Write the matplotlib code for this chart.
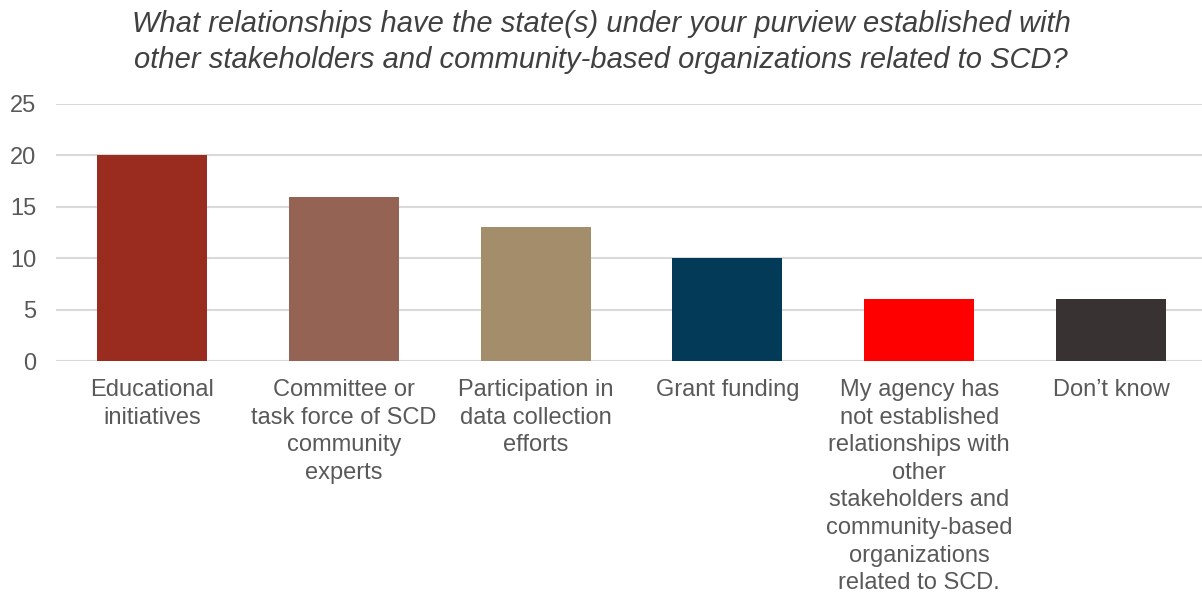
import matplotlib
matplotlib.use("Agg")
import matplotlib.pyplot as plt

plt.rcParams['font.family'] = ['Liberation Sans', 'DejaVu Sans']

# 数据
categories = [
    "Educational\ninitiatives",
    "Committee or\ntask force of SCD\ncommunity\nexperts",
    "Participation in\ndata collection\nefforts",
    "Grant funding",
    "My agency has\nnot established\nrelationships with\nother\nstakeholders and\ncommunity-based\norganizations\nrelated to SCD.",
    "Don\u2019t know",
]
values = [20, 16, 13, 10, 6, 6]
colors = ["#9a2c1f", "#956354", "#a38d6b", "#023a57", "#ff0000", "#383232"]
yticks = [0, 5, 10, 15, 20, 25]

title = ("What relationships have the state(s) under your purview established with\n"
         "other stakeholders and community-based organizations related to SCD?")

fig = plt.figure(figsize=(12.02, 5.95), dpi=100)
ax = fig.add_axes([56 / 1202, 1 - 361 / 595, 1151 / 1202, (361 - 104) / 595])

x = range(len(values))
ax.bar(x, values, width=0.574, color=colors, zorder=3)

ax.set_ylim(0, 25)
ax.set_xlim(-0.5, len(values) - 0.5)
ax.set_yticks(yticks)
ax.yaxis.grid(True, color="#d9d9d9", linewidth=1.5, zorder=0)
ax.set_axisbelow(True)
for s in ax.spines.values():
    s.set_visible(False)

ax.tick_params(axis="y", length=0, pad=14, labelsize=17, labelcolor="#595959")
ax.tick_params(axis="x", length=0, pad=13)
ax.set_xticks(list(x))
ax.set_xticklabels(categories, fontsize=17, color="#595959", linespacing=1.33, va="top")

fig.text(0.5, 0.984, title, ha="center", va="top", fontsize=21, style="italic",
         color="#404040", linespacing=1.38)

fig.savefig("out.png", dpi=100)
